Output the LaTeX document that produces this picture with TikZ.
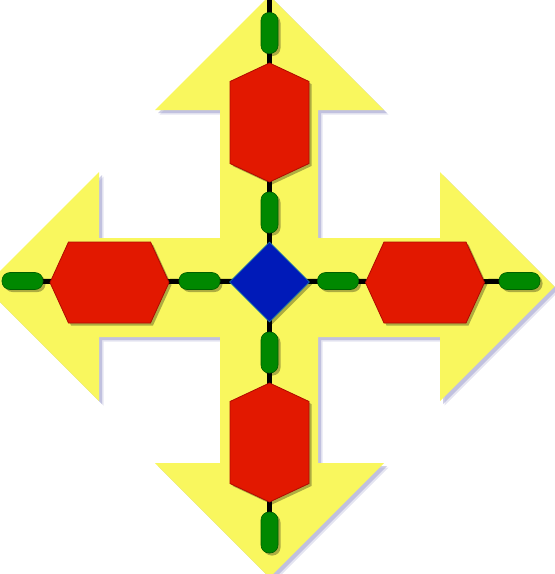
\documentclass[tikz,border=0pt]{standalone}
\usetikzlibrary{shapes.geometric,shadows,calc}
\definecolor{yellowc}{RGB}{249,247,94}
\definecolor{redc}{RGB}{226,24,0}
\definecolor{redd}{RGB}{175,10,0}
\definecolor{greenc}{RGB}{0,136,0}
\definecolor{greend}{RGB}{0,95,0}
\definecolor{bluec}{RGB}{0,26,184}
\definecolor{blueb}{RGB}{20,110,170}
\definecolor{ashadow}{RGB}{150,150,200}
\tikzset{
  arrowfill/.style={fill=yellowc},
  hexstyle/.style={fill=redc, draw=redd, line width=0.8pt,
    drop shadow={shadow xshift=2.5pt, shadow yshift=-2.5pt, opacity=.3, fill=black}},
  capsule/.style={rectangle, rounded corners=8pt, fill=greenc, draw=greend, line width=0.6pt, inner sep=0pt,
    drop shadow={shadow xshift=2.5pt, shadow yshift=-2.5pt, opacity=.3, fill=black}},
  capH/.style={capsule, minimum width=41pt, minimum height=17pt},
  capV/.style={capsule, minimum width=17pt, minimum height=41pt},
  hub/.style={diamond, aspect=1, minimum size=80pt, inner sep=0pt, fill=bluec, draw=blueb, line width=0.8pt,
    drop shadow={shadow xshift=2.5pt, shadow yshift=-2.5pt, opacity=.3, fill=black}},
  link/.style={line width=5pt, draw=black}
}
\begin{document}
\begin{tikzpicture}[x=1pt,y=-1pt]
\useasboundingbox (0,0) rectangle (555,574);
\clip (0,0) rectangle (555,574);
% centres
\coordinate (top end) at (269.5,0);
\coordinate (hT) at (269.5,122.5);
\coordinate (hB) at (269.5,442.5);
\coordinate (hL) at (109.5,282.5);
\coordinate (hR) at (425,282.5);
% yellow cross arrow
\def\crosspath{(269.5,-4.5) -- (384,110) -- (318,110) -- (318,238) -- (440,238) -- (440,172) -- (554.5,286.5) -- (440,401) -- (440,337) -- (318,337) -- (318,463) -- (384,463) -- (269.5,577.5) -- (155,463) -- (220,463) -- (220,337) -- (99,337) -- (99,401) -- (-15.5,286.5) -- (99,172) -- (99,238) -- (220,238) -- (220,110) -- (155,110) -- cycle}
\begin{scope}[shift={(4.5,4.5)}]
\fill[ashadow, opacity=.25] \crosspath;
\end{scope}
\begin{scope}[shift={(3,3)}]
\fill[ashadow, opacity=.45] \crosspath;
\end{scope}
\fill[arrowfill] \crosspath;
% connectors (under the shapes)
\coordinate (gT1) at (269.5,33);
\coordinate (gT2) at (269.5,212.5);
\coordinate (gB2) at (269.5,352.5);
\coordinate (gB1) at (269.5,532.5);
\coordinate (gL1) at (22.5,281);
\coordinate (gL2) at (199.5,281);
\coordinate (gR2) at (338,281);
\coordinate (gR1) at (519.5,281);
\coordinate (ctr) at (269.5,282);
\draw[link] (top end) -- (gT1) -- (hT) -- (gT2) -- (ctr) -- (gB2) -- (hB) -- (gB1);
\draw[link] (gL1) -- (hL) -- (gL2) -- (ctr) -- (gR2) -- (hR) -- (gR1);
% hexagons
\path[hexstyle] ($(hT)+(0,-59.5)$) -- ++(39.5,18.5) -- ++(0,82) -- ++(-39.5,18.5) -- ++(-39.5,-18.5) -- ++(0,-82) -- cycle;
\path[hexstyle] ($(hB)+(0,-59.5)$) -- ++(39.5,18.5) -- ++(0,82) -- ++(-39.5,18.5) -- ++(-39.5,-18.5) -- ++(0,-82) -- cycle;
\path[hexstyle] ($(hL)+(-59.5,0)$) -- ++(18.5,-40.5) -- ++(82,0) -- ++(18.5,40.5) -- ++(-18.5,40.5) -- ++(-82,0) -- cycle;
\path[hexstyle] ($(hR)+(-59.5,0)$) -- ++(18.5,-40.5) -- ++(82,0) -- ++(18.5,40.5) -- ++(-18.5,40.5) -- ++(-82,0) -- cycle;
% capsules and hub
\node[capV] (cT1) at (gT1) {};
\node[capV] (cT2) at (gT2) {};
\node[capV] (cB2) at (gB2) {};
\node[capV] (cB1) at (gB1) {};
\node[capH] (cL1) at (gL1) {};
\node[capH] (cL2) at (gL2) {};
\node[capH] (cR2) at (gR2) {};
\node[capH] (cR1) at (gR1) {};
\node[hub] (center) at (ctr) {};
\end{tikzpicture}
\end{document}
